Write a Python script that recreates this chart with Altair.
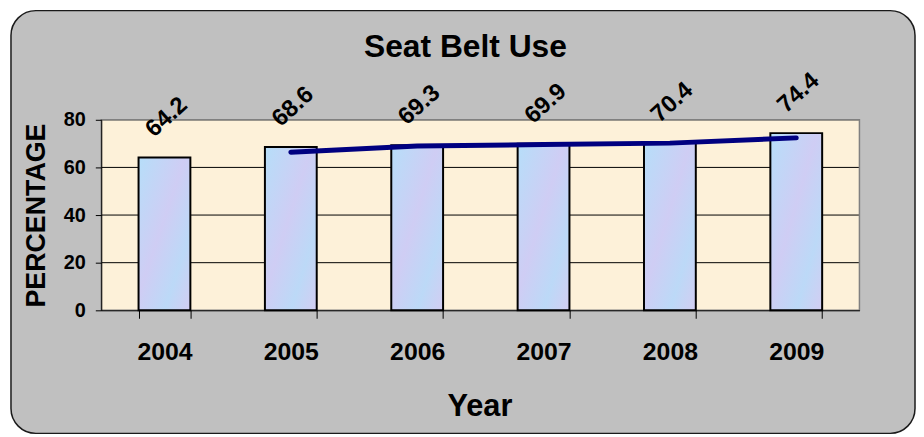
import altair as alt
import pandas as pd

# ---- data ----
years = ["2004", "2005", "2006", "2007", "2008", "2009"]
pct = [64.2, 68.6, 69.3, 69.9, 70.4, 74.4]
trend_years = ["2005", "2006", "2007", "2008", "2009"]
trend_vals = [66.4, 69.0, 69.6, 70.2, 72.4]
y_ticks = [0, 20, 40, 60, 80]
grid_vals = [20, 40, 60, 80]
title_text = "Seat Belt Use"
x_title = "Year"
y_title = "PERCENTAGE"

df = pd.DataFrame({"year": years, "pct": pct})
trend_df = pd.DataFrame({"year": trend_years, "trend": trend_vals})
grid_df = pd.DataFrame({"v": grid_vals})
one = pd.DataFrame({"k": [0]})

W, H = 764, 192
FONT = "Liberation Sans"

yscale = alt.Scale(domain=[0, 80], nice=False, zero=True)
xscale = alt.Scale(domain=years, paddingInner=0.59, paddingOuter=0.295)

xaxis = alt.Axis(
    title=x_title, labelAngle=0, grid=False, tickBand="extent",
    domainColor="black", domainWidth=1, tickColor="black", tickSize=8, tickWidth=1,
    labelFontSize=25, labelFontWeight="bold", labelColor="black", labelPadding=22,
    labelFont=FONT, titleFont=FONT,
    titleFontSize=31, titleFontWeight="bold", titleColor="black",
    titleX=381, titleY=97, titleBaseline="middle", titleAlign="center",
    zindex=1,
)
yaxis = alt.Axis(
    title=y_title, values=y_ticks, grid=False,
    domainColor="black", domainWidth=1, tickColor="black", tickSize=6, tickWidth=1,
    labelFontSize=20, labelFontWeight="bold", labelColor="black", labelPadding=10,
    labelFont=FONT, titleFont=FONT,
    titleFontSize=27, titleFontWeight="bold", titleColor="black",
    titleAngle=270, titleX=-65, titleY=96, titleBaseline="middle", titleAlign="center",
    zindex=1,
)

frame = alt.Chart(one).mark_rect(
    cornerRadius=25, fill="#c0c0c0", stroke="#1a1a1a", strokeWidth=1.5
).encode(x=alt.value(-91), x2=alt.value(820), y=alt.value(-110), y2=alt.value(316))

plot_bg = alt.Chart(one).mark_rect(fill="#fdf1d9").encode(
    x=alt.value(0), x2=alt.value(W), y=alt.value(0), y2=alt.value(H)
)

grid = alt.Chart(grid_df).mark_rule(color="black", strokeWidth=1).encode(
    y=alt.Y("v:Q", scale=yscale, axis=yaxis)
)

border = alt.Chart(one).mark_rect(
    filled=False, stroke="#808080", strokeWidth=1.5
).encode(x=alt.value(0), x2=alt.value(W), y=alt.value(0), y2=alt.value(H))

bar_fill = alt.Gradient(
    gradient="linear",
    stops=[
        alt.GradientStop(color="#b6def9", offset=0),
        alt.GradientStop(color="#cfcdf4", offset=0.45),
        alt.GradientStop(color="#bcd9f7", offset=0.75),
        alt.GradientStop(color="#d3cdf2", offset=1),
    ],
    x1=0, x2=1, y1=0, y2=1,
)

bars = alt.Chart(df).mark_bar(color=bar_fill, stroke="black", strokeWidth=2).encode(
    x=alt.X("year:O", scale=xscale, axis=xaxis),
    y=alt.Y("pct:Q", scale=yscale, axis=yaxis),
)

line = alt.Chart(trend_df).mark_line(
    color="#000080", strokeWidth=5, strokeCap="round", strokeJoin="round"
).encode(
    x=alt.X("year:O", scale=xscale, axis=xaxis),
    y=alt.Y("trend:Q", scale=yscale, axis=yaxis),
)

labels = alt.Chart(df).transform_calculate(ly="datum.pct + 16").mark_text(
    angle=318, fontSize=24, fontWeight="bold", font=FONT, color="black",
    align="center", baseline="middle", dx=3,
).encode(
    x=alt.X("year:O", scale=xscale, axis=xaxis),
    y=alt.Y("ly:Q", scale=yscale, axis=yaxis),
    text=alt.Text("pct:Q", format=".1f"),
)

title = alt.Chart(one).mark_text(
    text=title_text, fontSize=32, fontWeight="bold", font=FONT, color="black",
    align="center", baseline="middle",
).encode(x=alt.value(367), y=alt.value(-73))

chart = alt.layer(frame, plot_bg, grid, border, bars, line, labels, title).properties(
    width=W, height=H,
    padding={"left": 2, "top": 0, "right": 0, "bottom": 0},
    background="white",
).configure(font=FONT, view=alt.ViewConfig(strokeWidth=0))

chart.save("out.html", embed_options={"renderer": "svg", "actions": False})
